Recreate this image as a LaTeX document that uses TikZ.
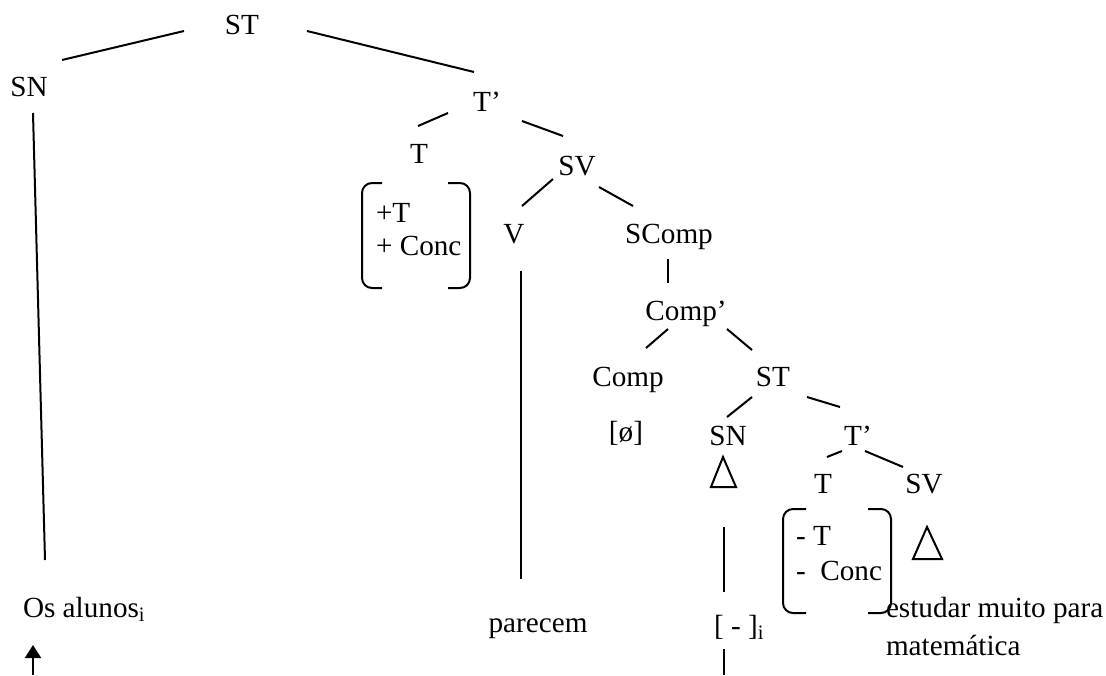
\documentclass[tikz,border=0pt]{standalone}
\usepackage{fontspec}
\setmainfont{Liberation Serif}
\usetikzlibrary{calc,arrows.meta}
\tikzset{
  lbl/.style={inner sep=0pt,anchor=base,font=\fontsize{14.6}{17}\selectfont},
  lblw/.style={lbl,anchor=base west},
  brk/.style={rounded corners=5pt},
}
\begin{document}
\begin{tikzpicture}[x=0.5pt,y=-0.5pt,line width=1pt]
  \useasboundingbox (0,0) rectangle (1106,675);
  \foreach \n/\x/\y/\t in
    { st/242/34/ST,     sn/29/96/SN,      tb/487/111/T’,
      t/419/163/T,      sv/577/175/SV,    v/514/243/V,
      scomp/669/243/SComp, compb/686/320/Comp’,
      comp/628/386/Comp, st2/773/386/ST,  null/626/441/[ø],
      sn2/728/445/SN,   tb2/858/445/T’,
      t2/823/493/T,     sv2/924/493/SV,   parecem/538/632/parecem
    }
    \node[lbl] (\n) at (\x,\y) {\t};
  \node[lblw] (feat1a) at (375,222) {+T};
  \node[lblw] (feat1b) at (375,255) {+ Conc};
  \node[lblw] (feat2a) at (795,545) {- T};
  \node[lblw] (feat2b) at (795,580) {-\ \ Conc};
  \node[lblw] (alunos) at (22,617) {Os alunos\textsubscript{i}};
  \node[lblw] (gap) at (713,635) {[ - ]\textsubscript{i}};
  \node[lblw] (inf1) at (885,617) {estudar muito para};
  \node[lblw] (inf2) at (885,655) {matemática};
  \foreach \a/\b/\ax/\ay/\bx/\by in
    { st/sn/-58/-3/33/-36,
      st/tb/65/-3/-13/-39,
      tb/t/-39/2/-1/-37,
      tb/sv/35/10/-14/-39,
      sv/v/-24/4/8/-37,
      sv/scomp/22/12/-36/-37,
      scomp/compb/-1/16/-18/-37,
      compb/comp/-18/9/18/-38,
      compb/st2/41/9/-21/-36,
      st2/sn2/-21/11/-1/-28,
      st2/tb2/34/11/-18/-38,
      tb2/t2/-16/6/4/-36,
      tb2/sv2/7/6/-21/-26
    }
    \draw ($(\a.base)+(\ax,\ay)$) -- ($(\b.base)+(\bx,\by)$);
  \draw ($(sn.base)+(4,17)$) -- ($(alunos.base west)+(23,-57)$);
  \draw ($(v.base)+(7,28)$) -- ($(parecem.base)+(-17,-53)$);
  \draw ($(sn2.base)+(-4,82)$) -- ($(gap.base west)+(11,-43)$);
  \draw ($(gap.base west)+(11,14)$) -- ++(0,26);
  \draw[-{Triangle[length=6.5pt,width=8pt]}] ($(alunos.base west)+(11,58)$)
    -- ($(alunos.base west)+(11,28)$);
  \draw ($(sn2.base)+(-5,12)$) -- ++(13,30) -- ++(-25,0) -- cycle;
  \draw ($(sv2.base)+(3,34)$) -- ++(15,32) -- ++(-29,0) -- cycle;
  \draw[brk] ($(feat1a.base west)+(7,-39)$) -- ++(-20,0) -- ++(0,105) -- ++(20,0);
  \draw[brk] ($(feat1a.base west)+(73,-39)$) -- ++(22,0) -- ++(0,105) -- ++(-22,0);
  \draw[brk] ($(feat2a.base west)+(11,-36)$) -- ++(-23,0) -- ++(0,104) -- ++(23,0);
  \draw[brk] ($(feat2a.base west)+(73,-36)$) -- ++(23,0) -- ++(0,104) -- ++(-23,0);
\end{tikzpicture}
\end{document}
